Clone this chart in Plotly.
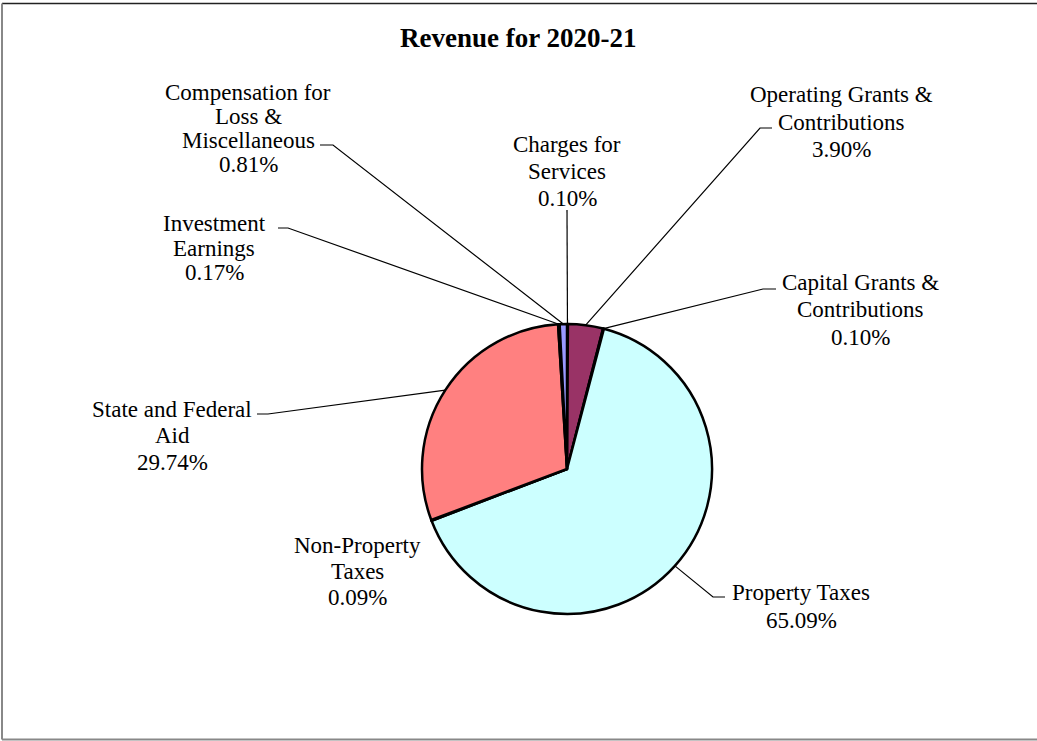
import math
import plotly.graph_objects as go

W, H = 1037, 741

# ==============================
# DATA
# ==============================
categories = [
    "Charges for Services",
    "Operating Grants & Contributions",
    "Capital Grants & Contributions",
    "Property Taxes",
    "Non-Property Taxes",
    "State and Federal Aid",
    "Investment Earnings",
    "Compensation for Loss & Miscellaneous",
]
shares = [0.10, 3.90, 0.10, 65.09, 0.09, 29.74, 0.17, 0.81]
label_lines = [
    ["Charges for", "Services"],
    ["Operating Grants &", "Contributions"],
    ["Capital Grants &", "Contributions"],
    ["Property Taxes"],
    ["Non-Property", "Taxes"],
    ["State and Federal", "Aid"],
    ["Investment", "Earnings"],
    ["Compensation for", "Loss &", "Miscellaneous"],
]
colors = ["#9999FF", "#993366", "#FFFFCC", "#CCFFFF", "#660066", "#FF8080", "#0066CC", "#9999FF"]

# ==============================
# LAYOUT (pixels)
# ==============================
pie_cx, pie_cy, pie_r = 567, 469, 145
font_size = 23
# label centre x, centre y of first line, line gap
label_pos = [(567, 145, 26.5), (841, 95, 27), (860, 283, 27), (801, 592, 28),
             (357, 545, 26), (172, 409, 26.5), (214, 224, 24), (248, 92, 24.3)]
# leader: start x, elbow x, y  (None = no leader)
leaders = [(567, 567, 210), (772, 760, 128), (776, 763, 289), (725, 713, 597),
           None, (257, 268, 414), (278, 288, 228), (320, 333, 145)]


def px(x):
    return x / W


def py(y):
    return 1 - y / H


fig = go.Figure(go.Pie(
    labels=categories,
    values=shares,
    sort=False,
    direction="clockwise",
    rotation=0,
    textinfo="none",
    hoverinfo="label+percent",
    marker=dict(colors=colors, line=dict(color="black", width=2.5)),
    domain=dict(x=[px(pie_cx - pie_r), px(pie_cx + pie_r)],
                y=[py(pie_cy + pie_r), py(pie_cy - pie_r)]),
    showlegend=False,
))

annotations = []
shapes = []
cum = 0.0
total = sum(shares)
for name_lines, val, pos, lead in zip(label_lines, shares, label_pos, leaders):
    mid = (cum + val / 2) / total * 2 * math.pi
    cum += val
    lines = name_lines + [f"{val:.2f}%"]
    cx, top, gap = pos
    for i, t in enumerate(lines):
        annotations.append(dict(
            x=px(cx), y=py(top + i * gap), xref="paper", yref="paper",
            text=t, showarrow=False, xanchor="center", yanchor="middle",
            font=dict(family="Liberation Serif", size=font_size, color="black"),
        ))
    if lead is not None:
        x0, x1, y0 = lead
        ex = pie_cx + pie_r * math.sin(mid)
        ey = pie_cy - pie_r * math.cos(mid)
        shapes.append(dict(
            type="path", xref="paper", yref="paper",
            path=f"M {px(x0)},{py(y0)} L {px(x1)},{py(y0)} L {px(ex)},{py(ey)}",
            line=dict(color="black", width=1.2),
        ))

annotations.append(dict(
    x=px(518), y=py(38), xref="paper", yref="paper",
    text="<b>Revenue for 2020-21</b>", showarrow=False,
    xanchor="center", yanchor="middle",
    font=dict(family="Liberation Serif", size=27, color="black"),
))

# chart frame
shapes.append(dict(type="line", xref="paper", yref="paper", x0=px(2), x1=1, y0=py(3.5), y1=py(3.5),
                   line=dict(color="#222222", width=1.5)))
shapes.append(dict(type="line", xref="paper", yref="paper", x0=px(2), x1=px(2), y0=py(3.5), y1=py(739.5),
                   line=dict(color="#888888", width=2)))
shapes.append(dict(type="line", xref="paper", yref="paper", x0=px(2), x1=1, y0=py(739.5), y1=py(739.5),
                   line=dict(color="#888888", width=2)))

fig.update_layout(
    width=W, height=H, autosize=False,
    margin=dict(l=0, r=0, t=0, b=0),
    paper_bgcolor="white", plot_bgcolor="white",
    annotations=annotations, shapes=shapes,
)

fig.write_html("out.html", config={"displayModeBar": False},
               post_script="document.body.style.margin='0';")
